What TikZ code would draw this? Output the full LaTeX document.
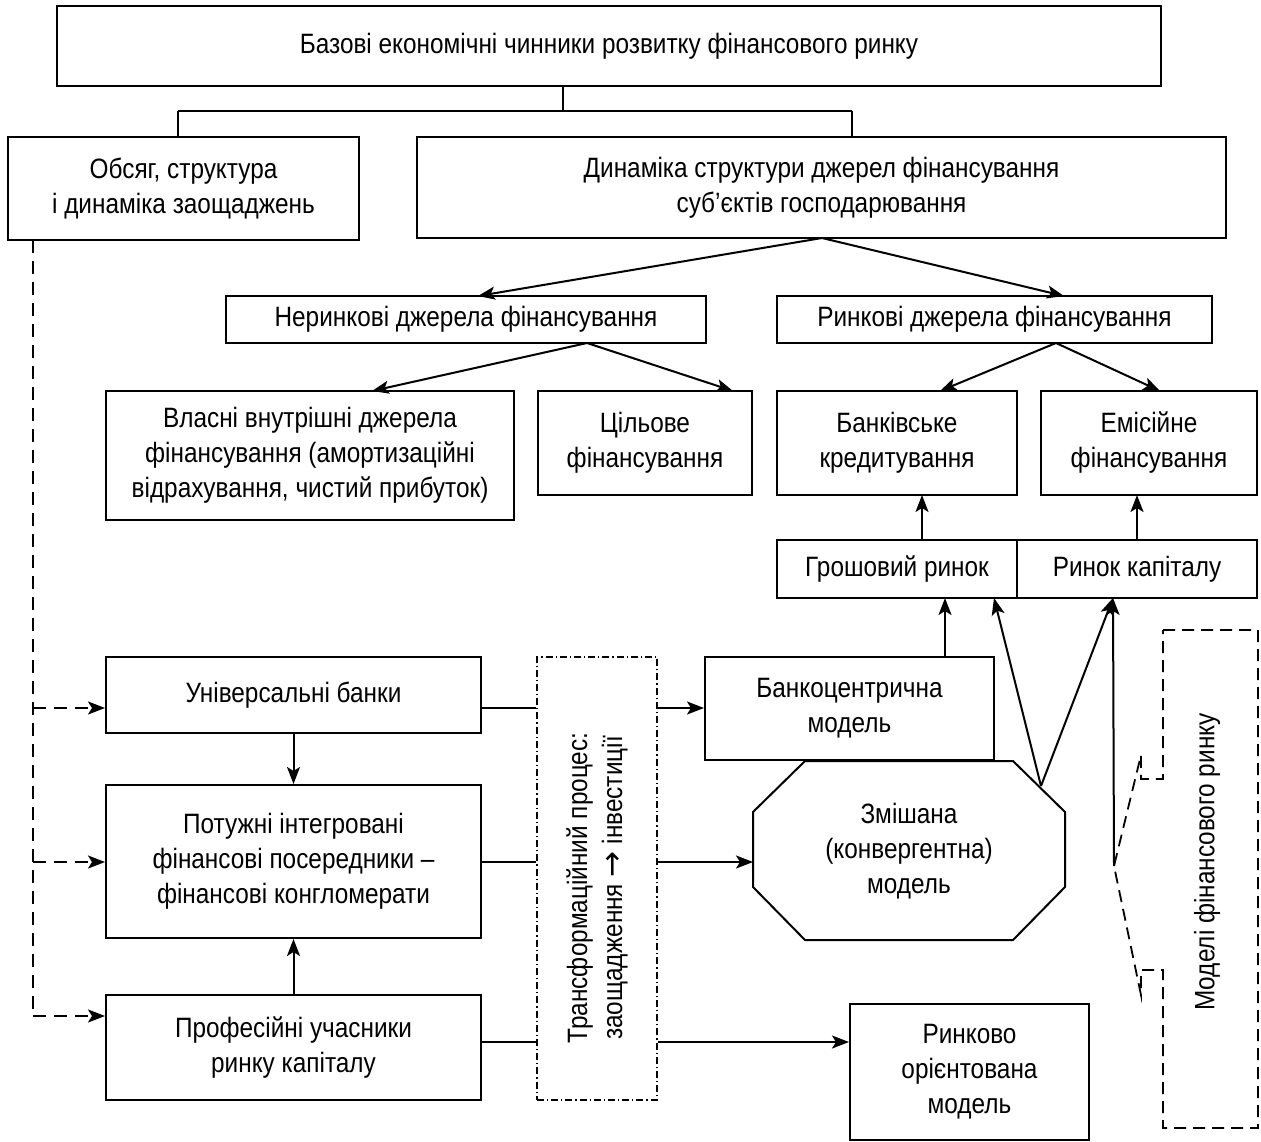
\documentclass[tikz,border=0pt]{standalone}
\usepackage{fontspec}
\setmainfont{Liberation Sans}[FakeStretch=0.87]
\newfontfamily\arrowfont{DejaVu Sans}
\usetikzlibrary{arrows.meta}
\begin{document}
\begin{tikzpicture}[x=1pt,y=-1pt,
  box/.style={draw, line width=2pt, inner sep=0pt, font=\fontsize{28}{35}\selectfont, align=center},
  txt/.style={inner sep=0pt, font=\fontsize{28}{35}\selectfont, align=center},
  ln/.style={line width=2pt},
  arr/.style={line width=2pt, -{Stealth[length=17pt,width=13pt,inset=4pt]}},
  dsh/.style={line width=2pt, dash pattern=on 13pt off 8pt},
  darr/.style={dsh, -{Stealth[length=17pt,width=13pt,inset=4pt]}},
  ddot/.style={line width=1.4pt, dash pattern=on 7pt off 3pt on 1.2pt off 3pt}]
\useasboundingbox (0,0) rectangle (1261,1142);
% boxes
\node[box, minimum width=1104pt, minimum height=80pt] (top) at (609,46) {Базові економічні чинники розвитку фінансового ринку};
\node[box, minimum width=351pt, minimum height=103pt] (obs) at (183.5,188.5) {Обсяг, структура\\і динаміка заощаджень};
\node[box, minimum width=809pt, minimum height=101pt] (dyn) at (821.5,187.5) {Динаміка структури джерел фінансування\\суб’єктів господарювання};
\node[box, minimum width=480pt, minimum height=47pt] (nerin) at (466,319.5) {Неринкові джерела фінансування};
\node[box, minimum width=435pt, minimum height=47pt] (rynk) at (994.5,319.5) {Ринкові джерела фінансування};
\node[box, minimum width=408pt, minimum height=129pt] (vlas) at (310,455.5) {Власні внутрішні джерела\\фінансування (амортизаційні\\відрахування, чистий прибуток)};
\node[box, minimum width=214pt, minimum height=104pt] (tsil) at (645,443) {Цільове\\фінансування};
\node[box, minimum width=240pt, minimum height=104pt] (bank) at (897,443) {Банківське\\кредитування};
\node[box, minimum width=216pt, minimum height=104pt] (emis) at (1149,443) {Емісійне\\фінансування};
\node[box, minimum width=240pt, minimum height=58pt] (hrosh) at (897,569) {Грошовий ринок};
\node[box, minimum width=240pt, minimum height=58pt] (kapit) at (1137,569) {Ринок капіталу};
\node[box, minimum width=375pt, minimum height=76pt] (univ) at (293.5,695) {Універсальні банки};
\node[box, minimum width=375pt, minimum height=153pt] (potuzh) at (293.5,861.5) {Потужні інтегровані\\фінансові посередники –\\фінансові конгломерати};
\node[box, minimum width=375pt, minimum height=105pt] (prof) at (293.5,1047.5) {Професійні учасники\\ринку капіталу};
\node[box, ddot, minimum width=120pt, minimum height=443pt] (trans) at (597,878.5) {};
\node[txt, rotate=90] (transtxt) at (597,888) {Трансформаційний процес:\\заощадження {\arrowfont\fontsize{31}{35}\selectfont →} інвестиції};
\node[box, minimum width=289pt, minimum height=103pt] (banko) at (849.5,708.5) {Банкоцентрична\\модель};
\node[box, minimum width=239pt, minimum height=136pt] (rynko) at (969.5,1072) {Ринково\\орієнтована\\модель};
% octagon
\coordinate (o1) at (805,761); \coordinate (o2) at (1013,761); \coordinate (o3) at (1065,812); \coordinate (o4) at (1065,887);
\coordinate (o5) at (1013,940); \coordinate (o6) at (805,940); \coordinate (o7) at (753,887); \coordinate (o8) at (753,812);
\draw[ln, line join=miter] (o1) -- (o2) -- (o3) -- (o4) -- (o5) -- (o6) -- (o7) -- (o8) -- cycle;
\node[txt] (mix) at (909,851) {Змішана\\(конвергентна)\\модель};
\coordinate (mixL) at (753,862);
% models callout
\coordinate (c1) at (1163,630); \coordinate (c2) at (1258,630); \coordinate (c3) at (1258,1128); \coordinate (c4) at (1163,1128);
\coordinate (c5) at (1163,970); \coordinate (c6) at (1141,970); \coordinate (c7) at (1141,995); \coordinate (apex) at (1114,866);
\coordinate (c8) at (1141,755); \coordinate (c9) at (1141,779); \coordinate (c10) at (1163,779);
\draw[line width=1.8pt, dash pattern=on 12pt off 7pt] (c1) -- (c2) -- (c3) -- (c4) -- (c5) -- (c6) -- (c7) -- (apex) -- (c8) -- (c9) -- (c10) -- cycle;
\node[txt, rotate=90] (models) at (1207,862) {Моделі фінансового ринку};
% top connectors
\coordinate (t0) at (563,111); \coordinate (tl) at (178,111); \coordinate (tr) at (852,111);
\draw[ln] (top.south -| t0) -- (t0);
\draw[ln] (tl) -- (tr);
\draw[ln] (tl) -- (tl |- obs.north);
\draw[ln] (tr) -- (tr |- dyn.north);
% arrows tree
\coordinate (dynB) at (822,238);
\draw[arr] (dynB) -- (478,296);
\draw[arr] (dynB) -- (1064,296);
\coordinate (nerB) at (587,343);
\draw[arr] (nerB) -- (372,391);
\draw[arr] (nerB) -- (733,391);
\coordinate (rynB) at (1056,343);
\draw[arr] (rynB) -- (940,391);
\draw[arr] (rynB) -- (1160,391);
\draw[arr] (922,540) -- (922,495);
\draw[arr] (1137,540) -- (1137,495);
\draw[arr] (945,657) -- (945,598);
\coordinate (vapex) at (1041,786);
\draw[arr] (vapex) -- (994,598);
\draw[arr] (vapex) -- (1113,598);
\draw[arr] (apex) -- (1113,598);
% left dashed
\coordinate (d0) at (33,240); \coordinate (d1) at (33,708); \coordinate (d2) at (33,862); \coordinate (d3) at (33,1016);
\draw[dsh] (d0) -- (d3);
\draw[darr] (d1) -- (d1 -| univ.west);
\draw[darr] (d2) -- (d2 -| potuzh.west);
\draw[darr] (d3) -- (d3 -| prof.west);
% vertical arrows left column
\draw[arr] (univ.south) -- (potuzh.north);
\draw[arr] (prof.north) -- (potuzh.south);
% horizontal through transform box
\coordinate (h1) at (481,708); \coordinate (h2) at (481,862); \coordinate (h3) at (481,1042);
\draw[ln] (h1) -- (h1 -| trans.west);
\draw[ln] (h2) -- (h2 -| trans.west);
\draw[ln] (h3) -- (h3 -| trans.west);
\draw[arr] (h1 -| trans.east) -- (h1 -| banko.west);
\draw[arr] (h2 -| trans.east) -- (mixL);
\draw[arr] (h3 -| trans.east) -- (h3 -| rynko.west);
\end{tikzpicture}
\end{document}
